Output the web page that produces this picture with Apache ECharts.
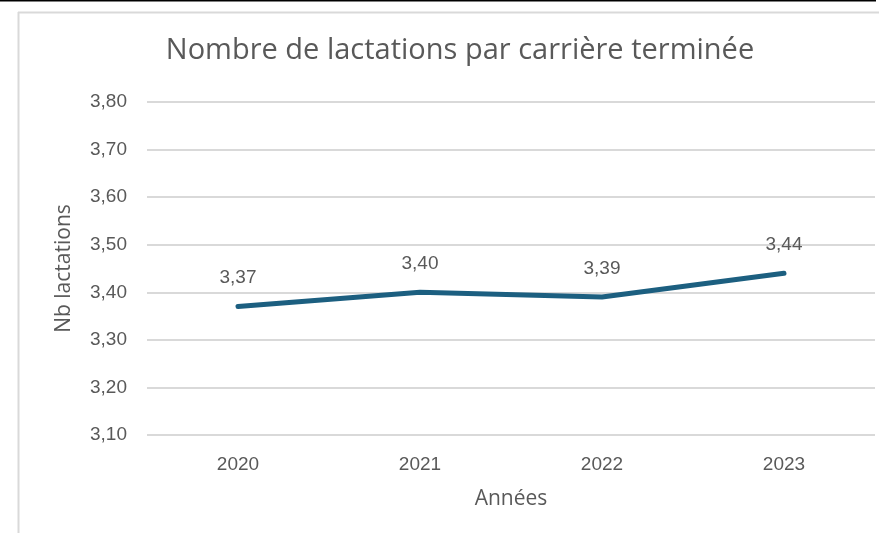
<!DOCTYPE html>
<html>
<head>
<meta charset="utf-8">
<script src="https://cdn.jsdelivr.net/npm/echarts@6/dist/echarts.min.js"></script>
<style>
  html, body { margin: 0; padding: 0; background: #fff; }
  #chart { width: 879px; height: 533px; }
</style>
</head>
<body>
<div id="chart"></div>
<script>
var years = ['2020', '2021', '2022', '2023'];
var lactations = [3.37, 3.40, 3.39, 3.44];
var yTicks = [3.10, 3.20, 3.30, 3.40, 3.50, 3.60, 3.70, 3.80];

var textColor = '#595959';
var gridColor = '#d9d9d9';
var lineColor = '#1c5f80';
var font = '"Liberation Sans", Arial, sans-serif';
var nameFont = '"Open Sans", "Liberation Sans", sans-serif';

function fmt(v) { return v.toFixed(2).replace('.', ','); }

var chart = echarts.init(document.getElementById('chart'), null, { renderer: 'canvas' });
chart.setOption({
  animation: false,
  backgroundColor: '#fff',
  textStyle: { fontFamily: font },
  title: {
    text: 'Nombre de lactations par carrière terminée',
    left: 455,
    textAlign: 'center',
    top: 31,
    textStyle: { color: textColor, fontSize: 29, fontWeight: 'normal', fontFamily: nameFont }
  },
  graphic: [
    { type: 'line', shape: { x1: 0, y1: 0.5, x2: 876, y2: 0.5 }, style: { stroke: '#000', lineWidth: 2 } },
    { type: 'line', shape: { x1: 18, y1: 12.5, x2: 879, y2: 12.5 }, style: { stroke: gridColor, lineWidth: 2 } },
    { type: 'line', shape: { x1: 18.5, y1: 12, x2: 18.5, y2: 533 }, style: { stroke: gridColor, lineWidth: 2 } }
  ],
  grid: { left: 147, right: 4, top: 102, bottom: 98, containLabel: false },
  xAxis: {
    type: 'category',
    data: years,
    boundaryGap: true,
    name: 'Années',
    nameLocation: 'middle',
    nameGap: 54,
    nameTextStyle: { color: textColor, fontSize: 21, fontFamily: nameFont },
    axisLine: { show: false },
    axisTick: { show: false },
    axisLabel: { color: textColor, fontSize: 19, margin: 20 }
  },
  yAxis: {
    type: 'value',
    min: yTicks[0],
    max: yTicks[yTicks.length - 1],
    interval: 0.1,
    name: 'Nb lactations',
    nameLocation: 'middle',
    nameGap: 72,
    nameRotate: 90,
    nameTextStyle: { color: textColor, fontSize: 21, fontFamily: nameFont },
    axisLine: { show: false },
    axisTick: { show: false },
    axisLabel: { color: textColor, fontSize: 19, margin: 20, formatter: fmt },
    splitLine: { lineStyle: { color: gridColor, width: 2 } }
  },
  series: [{
    type: 'line',
    data: lactations,
    symbol: 'circle',
    symbolSize: 2,
    showSymbol: true,
    itemStyle: { color: lineColor },
    lineStyle: { color: lineColor, width: 5, cap: 'round' },
    label: {
      show: true,
      position: 'top',
      distance: 18,
      color: textColor,
      fontSize: 19,
      formatter: function(p) { return fmt(p.value); }
    },
    labelLayout: { hideOverlap: false }
  }]
});
</script>
</body>
</html>
